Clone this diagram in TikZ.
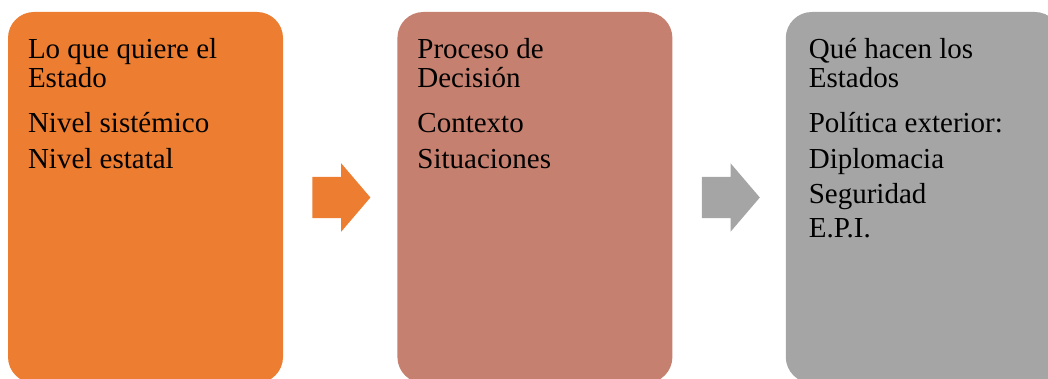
\documentclass[tikz,border=0pt]{standalone}
\usepackage{fontspec}
\setmainfont{Liberation Serif}
\usetikzlibrary{positioning}
\usetikzlibrary{shapes.arrows}

\definecolor{estadoorange}{HTML}{ED7D31}
\definecolor{decisionrose}{HTML}{C5806F}
\definecolor{haceresgray}{HTML}{A5A5A5}

\begin{document}
\begin{tikzpicture}[x=1pt, y=-1pt,
	bloque/.style={rectangle, rounded corners=26pt, minimum width=275pt, minimum height=371pt, inner sep=0pt},
	texto/.style={anchor=north west, align=left, inner sep=0pt, font=\fontsize{29}{29}\selectfont},
	flecha/.style={single arrow, anchor=tail, minimum height=58pt, inner xsep=0pt, inner ysep=20.5pt, single arrow head extend=13.5pt, single arrow tip angle=99}]
	\useasboundingbox (0,0) rectangle (1048,379);
	\clip (0,0) rectangle (1048,379);
	\node[bloque, fill=estadoorange] (quiere) at (145.5,197.5) {};
	\node[bloque, fill=decisionrose, right=114pt of quiere] (decision) {};
	\node[bloque, fill=haceresgray, right=113pt of decision] (hacen) {};
	
	\node[texto] (quiereTxt) at ([xshift=20pt, yshift=-26pt]quiere.north west) {Lo que quiere el\\Estado\\[16pt]Nivel sistémico\\[7pt]Nivel estatal};
	\node[texto] (decisionTxt) at ([xshift=20pt, yshift=-26pt]decision.north west) {Proceso de\\Decisión\\[16pt]Contexto\\[7pt]Situaciones};
	\node[texto] (hacenTxt) at ([xshift=23pt, yshift=-26pt]hacen.north west) {Qué hacen los\\Estados\\[16pt]Política exterior:\\[7pt]Diplomacia\\[6pt]Seguridad\\[5pt]E.P.I.};
	
	\node[flecha, fill=estadoorange] (flechaUno) at ([xshift=29pt]quiere.east) {};
	\node[flecha, fill=haceresgray] (flechaDos) at ([xshift=29pt]decision.east) {};
\end{tikzpicture}
\end{document}
